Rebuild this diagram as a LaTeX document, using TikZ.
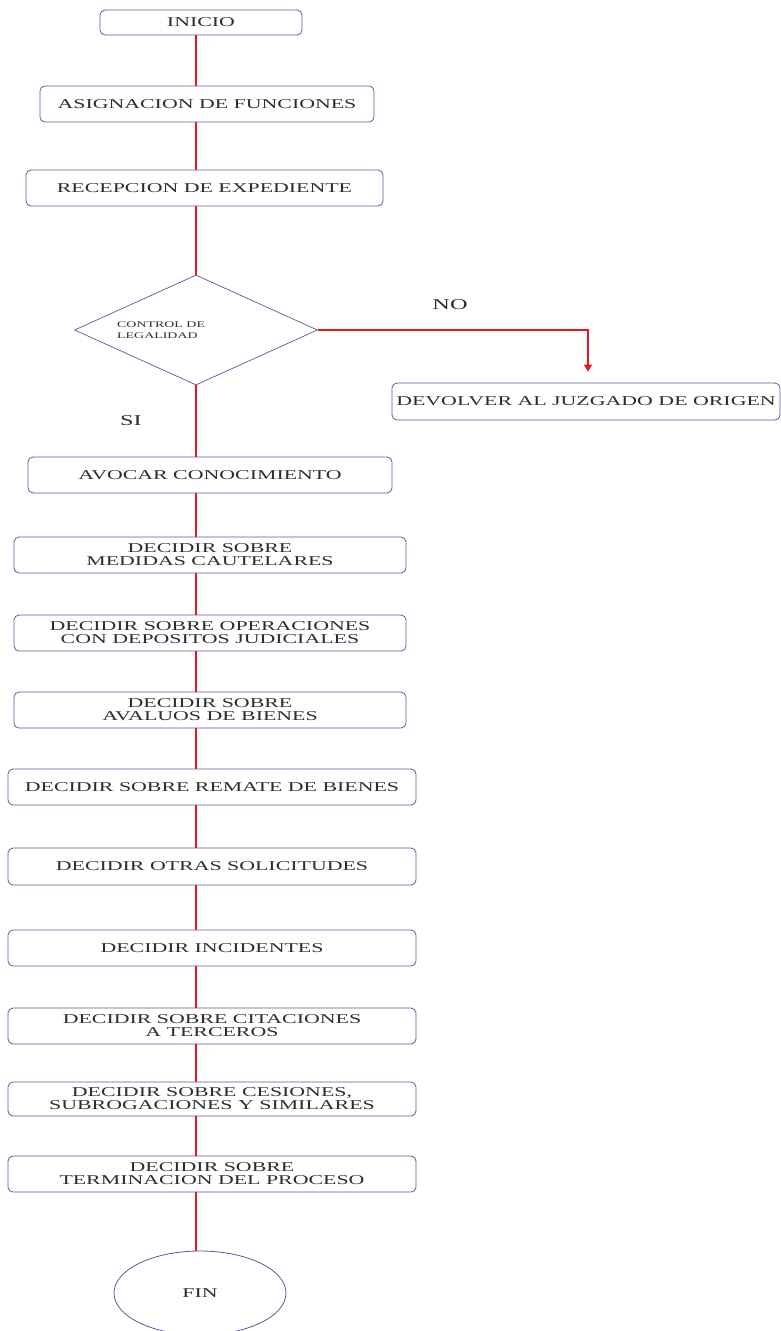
\documentclass[tikz,border=0pt]{standalone}
\usepackage{fontspec}
\setmainfont{Liberation Serif}[FakeStretch=1.62]
\usetikzlibrary{arrows.meta, shapes.geometric}

\definecolor{borde}{RGB}{98,86,160}
\definecolor{rojo}{RGB}{232,22,28}
\definecolor{texto}{RGB}{45,45,45}

\begin{document}
\begin{tikzpicture}[x=1pt, y=-1pt,
        caja/.style={draw=borde, line width=0.8pt, rounded corners=5pt, fill=white,
            minimum height=36pt, inner sep=0pt, align=center, text=texto,
            font=\fontsize{13.5}{13}\selectfont},
        rombo/.style={diamond, draw=borde, line width=0.7pt, fill=white,
            minimum width=243pt, minimum height=110pt, inner sep=0pt},
        elipse/.style={ellipse, draw=borde, line width=0.8pt, fill=white,
            minimum width=172pt, minimum height=84pt, inner sep=0pt, text=texto,
            font=\fontsize{13.5}{13}\selectfont},
        etiqueta/.style={text=texto, font=\fontsize{15}{15}\selectfont},
        linea/.style={draw=rojo, line width=1.4pt}]
        \useasboundingbox (0,0) rectangle (780,1331);
        \fill[white] (0,0) rectangle (780,1331);

        \coordinate (eje) at (196, 0);

        % cajas del proceso
        \node[caja, minimum width=202pt, minimum height=25pt] (inicio) at (201, 22.5) {INICIO};
        \node[caja, minimum width=334pt] (asignacion) at (207, 104) {ASIGNACION DE FUNCIONES};
        \node[caja, minimum width=357pt] (recepcion) at (204.5, 188) {RECEPCION DE EXPEDIENTE};

        \node[rombo] (control) at (196, 330) {};
        \node[anchor=west, align=left, text=texto, inner sep=0pt,
            font=\fontsize{8.6}{10.5}\selectfont] (controltxt) at (117, 330) {CONTROL DE\\LEGALIDAD};

        \node[caja, minimum width=388pt, minimum height=37pt] (devolver) at (586, 401.5) {DEVOLVER AL JUZGADO DE ORIGEN};
        \node[etiqueta] (no) at (450, 305) {NO};
        \node[etiqueta] (si) at (131, 421) {SI};

        \node[caja, minimum width=364pt] (avocar) at (210, 475) {AVOCAR CONOCIMIENTO};
        \node[caja, minimum width=392pt] (medidas) at (210, 555) {DECIDIR SOBRE\\MEDIDAS CAUTELARES};
        \node[caja, minimum width=392pt] (depositos) at (210, 633) {DECIDIR SOBRE OPERACIONES\\CON DEPOSITOS JUDICIALES};
        \node[caja, minimum width=392pt] (avaluos) at (210, 710) {DECIDIR SOBRE\\AVALUOS DE BIENES};
        \node[caja, minimum width=408pt] (remate) at (212, 787) {DECIDIR SOBRE REMATE DE BIENES};
        \node[caja, minimum width=408pt, minimum height=37pt] (otras) at (212, 866.5) {DECIDIR OTRAS SOLICITUDES};
        \node[caja, minimum width=408pt] (incidentes) at (212, 948) {DECIDIR INCIDENTES};
        \node[caja, minimum width=408pt] (citaciones) at (212, 1026) {DECIDIR SOBRE CITACIONES\\A TERCEROS};
        \node[caja, minimum width=408pt, minimum height=34pt] (cesiones) at (212, 1099) {DECIDIR SOBRE CESIONES,\\SUBROGACIONES Y SIMILARES};
        \node[caja, minimum width=408pt] (terminacion) at (212, 1174) {DECIDIR SOBRE\\TERMINACION DEL PROCESO};
        \node[elipse] (fin) at (200, 1293) {FIN};

        % conectores
        \draw[linea] (inicio.south -| eje) -- (asignacion.north -| eje);
        \draw[linea] (asignacion.south -| eje) -- (recepcion.north -| eje);
        \draw[linea] (recepcion.south -| eje) -- (control.north);
        \draw[linea] (control.south) -- (avocar.north -| eje);
        \draw[linea] (avocar.south -| eje) -- (medidas.north -| eje);
        \draw[linea] (medidas.south -| eje) -- (depositos.north -| eje);
        \draw[linea] (depositos.south -| eje) -- (avaluos.north -| eje);
        \draw[linea] (avaluos.south -| eje) -- (remate.north -| eje);
        \draw[linea] (remate.south -| eje) -- (otras.north -| eje);
        \draw[linea] (otras.south -| eje) -- (incidentes.north -| eje);
        \draw[linea] (incidentes.south -| eje) -- (citaciones.north -| eje);
        \draw[linea] (citaciones.south -| eje) -- (cesiones.north -| eje);
        \draw[linea] (cesiones.south -| eje) -- (terminacion.north -| eje);
        \draw[linea] (terminacion.south -| eje) -- (fin.north -| eje);

        \draw[linea, -{Triangle[width=8pt, length=7pt]}] (control.east) -| ([xshift=2pt, yshift=11pt]devolver.north);

    \end{tikzpicture}
\end{document}
